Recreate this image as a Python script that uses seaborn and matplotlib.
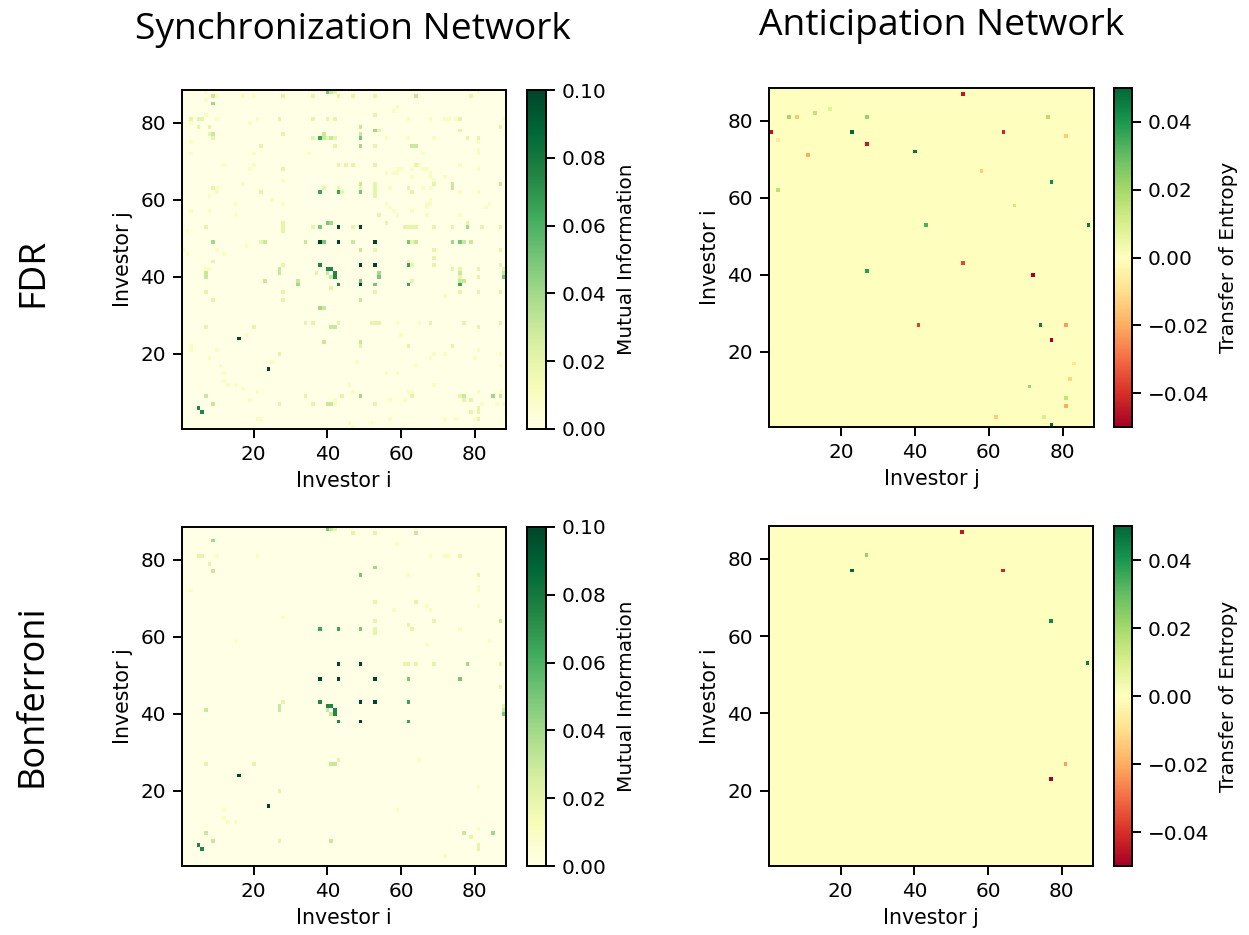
import numpy as np
import matplotlib
matplotlib.use("Agg")
import matplotlib.pyplot as plt
import seaborn as sns

N_INVESTORS = 88
AXIS_TICKS = [20, 40, 60, 80]
MI_CBAR_TICKS = [0.0, 0.02, 0.04, 0.06, 0.08, 0.10]
TE_CBAR_TICKS = [-0.04, -0.02, 0.0, 0.02, 0.04]
COLUMN_TITLES = ["Synchronization Network", "Anticipation Network"]
ROW_TITLES = ["FDR", "Bonferroni"]

# mutual information is symmetric, so only i < j pairs are listed, one list per value level
mi_level_values = [0.010, 0.020, 0.030, 0.040, 0.050, 0.065, 0.075, 0.100]
mi_pairs_010 = [(7, 88), (81, 88), (10, 87), (17, 87), (20, 87), (7, 86), (59, 84), (58, 83), (3, 81),
                (10, 81), (21, 81), (36, 81), (62, 81), (68, 81), (72, 81), (75, 81), (3, 80), (19, 80),
                (56, 76), (62, 76), (69, 76), (3, 75), (22, 74), (73, 81), (3, 72), (20, 72), (35, 72),
                (66, 72), (12, 69), (20, 69), (19, 68), (59, 68), (60, 68), (63, 68), (66, 68), (67, 68),
                (56, 67), (58, 67), (59, 67), (63, 66), (28, 65), (17, 64), (10, 63), (57, 63), (66, 63),
                (22, 62), (8, 61), (25, 60), (15, 59), (56, 59), (57, 58), (3, 57), (8, 57), (15, 56),
                (54, 56), (2, 52), (18, 48), (1, 47), (10, 47), (12, 46), (2, 46), (10, 62), (8, 42),
                (7, 40), (7, 42), (3, 22), (3, 21), (10, 21), (18, 25), (8, 19), (11, 17), (12, 15),
                (12, 13), (7, 82), (28, 59), (52, 28), (65, 69)]
mi_pairs_020 = [(42, 88), (28, 87), (36, 87), (43, 87), (47, 87), (53, 87), (79, 87), (53, 82), (5, 81),
                (6, 81), (27, 81), (40, 81), (42, 81), (76, 81), (8, 77), (8, 79), (28, 77), (9, 76),
                (36, 76), (39, 76), (40, 76), (42, 76), (54, 78), (76, 78), (42, 74), (53, 74), (63, 74),
                (43, 69), (45, 69), (47, 69), (53, 69), (64, 69), (28, 68), (9, 63), (39, 63), (43, 63),
                (49, 63), (53, 63), (62, 63), (53, 64), (44, 62), (53, 62), (53, 61), (28, 54), (54, 56),
                (54, 78), (7, 53), (28, 53), (36, 53), (47, 53), (61, 53), (63, 53), (64, 53), (69, 53),
                (74, 53), (78, 53), (82, 53), (87, 53), (22, 49), (63, 49), (64, 49), (77, 49), (79, 49),
                (69, 47), (87, 47), (9, 44), (28, 43), (63, 43), (69, 43), (87, 43), (37, 41), (74, 42),
                (76, 42), (81, 42), (76, 40), (81, 40), (7, 36), (28, 36), (53, 36), (76, 36), (81, 36),
                (87, 36), (9, 34), (28, 34), (28, 52), (7, 27), (20, 27), (81, 27), (22, 49), (22, 62),
                (22, 74), (34, 9), (44, 9), (63, 9), (76, 9), (77, 9), (87, 9), (8, 77), (5, 79), (5, 81),
                (6, 81), (3, 81)]
mi_pairs_030 = [(41, 88), (9, 87), (64, 87), (9, 77), (49, 77), (49, 79), (53, 78), (49, 64), (64, 74),
                (64, 87), (63, 74), (23, 49), (34, 49), (47, 49), (27, 41), (27, 42), (7, 41), (7, 9),
                (40, 41), (23, 39), (39, 76), (39, 77), (41, 76), (7, 40), (41, 42), (32, 39)]
mi_pairs_040 = [(9, 85), (9, 49), (32, 38), (85, 9), (53, 78), (49, 74), (41, 54)]
mi_pairs_050 = [(40, 88), (49, 76), (38, 53), (40, 54), (39, 49), (49, 62)]
mi_pairs_065 = [(38, 62), (43, 62), (38, 76)]
mi_pairs_075 = [(38, 43), (40, 42), (41, 42), (5, 6)]
mi_pairs_100 = [(38, 49), (43, 49), (43, 53), (49, 53), (16, 24)]
mi_no_data = [(41, 41)]

# pairs that also pass the Bonferroni threshold
mi_bonferroni_pairs = [(40, 88), (41, 88), (42, 88), (47, 87), (53, 87), (64, 87), (9, 85), (59, 84), (5, 81),
                       (6, 81), (10, 81), (21, 81), (68, 81), (72, 81), (73, 81), (76, 81), (8, 79), (53, 78),
                       (9, 77), (49, 76), (62, 76), (3, 72), (53, 69), (64, 69), (67, 68), (58, 67), (28, 65),
                       (53, 64), (69, 64), (62, 63), (38, 62), (49, 62), (53, 62), (53, 61), (15, 59), (43, 53),
                       (49, 53), (61, 53), (62, 53), (64, 53), (69, 53), (78, 53), (87, 53), (38, 49), (43, 49),
                       (62, 49), (76, 49), (28, 43), (38, 43), (43, 62), (27, 42), (40, 42), (41, 42), (7, 41),
                       (27, 41), (40, 41), (7, 27), (20, 27), (16, 24), (81, 21), (12, 15), (12, 13),
                       (81, 10), (7, 9), (77, 9), (85, 9), (79, 8), (27, 7), (41, 7), (5, 6), (81, 5), (72, 3)]

# transfer of entropy, (investor j, investor i)
te_cols = [53, 17, 13, 6, 8, 27, 76, 1, 23, 64, 81, 3, 27, 40, 11, 58, 77, 3, 67, 43, 87, 53, 27, 72, 41, 74,
           81, 77, 83, 82, 71, 81, 81, 62, 75, 77]
te_rows = [87, 83, 82, 81, 81, 81, 81, 77, 77, 77, 76, 75, 74, 72, 71, 67, 64, 62, 58, 53, 53, 43, 41, 40, 27, 27,
           27, 23, 17, 13, 11, 8, 6, 3, 3, 1]
te_vals = [-0.045, 0.008, 0.015, 0.020, -0.015, 0.022, 0.017, -0.046, 0.050, -0.042, -0.014, -0.007, -0.045,
           0.047, -0.020, -0.014, 0.043, 0.016, 0.012, 0.033, 0.046, -0.036, 0.038, -0.050, -0.037, 0.045,
           -0.022, -0.050, -0.008, -0.012, 0.021, 0.015, -0.020, -0.014, 0.010, 0.050]
te_bonferroni_cells = [(53, 87), (27, 81), (23, 77), (64, 77), (77, 64), (87, 53), (81, 27), (77, 23)]

# pixel boxes in the 1249x935 frame: left, top, right, bottom
HEATMAP_BOXES = [[(182, 90, 506, 429), (769, 88, 1094, 427)],
                 [(182, 527, 506, 866), (769, 526, 1093, 866)]]
CBAR_BOXES = [[(527, 90, 546, 429), (1114, 88, 1132, 427)],
              [(527, 527, 546, 866), (1114, 526, 1132, 866)]]
W, H = 1249, 935
FS = 14.4


def fig_rect(box):
    left, top, right, bottom = box
    return [left / W, 1 - bottom / H, (right - left) / W, (bottom - top) / H]


def mi_matrix():
    mat = np.zeros((N_INVESTORS, N_INVESTORS))
    levels = [mi_pairs_010, mi_pairs_020, mi_pairs_030, mi_pairs_040,
              mi_pairs_050, mi_pairs_065, mi_pairs_075, mi_pairs_100]
    for value, pairs in zip(mi_level_values, levels):
        for a, b in pairs:
            mat[a - 1, b - 1] = value
            mat[b - 1, a - 1] = value
    for a, b in mi_no_data:
        mat[a - 1, b - 1] = np.nan
    return mat


def bonferroni_mi(full):
    mat = np.zeros_like(full)
    for a, b in mi_bonferroni_pairs:
        mat[a - 1, b - 1] = full[a - 1, b - 1]
        mat[b - 1, a - 1] = full[b - 1, a - 1]
    for a, b in mi_no_data:
        mat[a - 1, b - 1] = np.nan
    return mat


def te_matrix():
    mat = np.zeros((N_INVESTORS, N_INVESTORS))
    for c, r, v in zip(te_cols, te_rows, te_vals):
        mat[r - 1, c - 1] = v
    return mat


def bonferroni_te(full):
    mat = np.zeros_like(full)
    for c, r in te_bonferroni_cells:
        mat[r - 1, c - 1] = full[r - 1, c - 1]
    return mat


def draw_panel(fig, mat, row, col, cmap, vmin, vmax, cbar_ticks, cbar_label, xlabel, ylabel):
    ax = fig.add_axes(fig_rect(HEATMAP_BOXES[row][col]))
    cax = fig.add_axes(fig_rect(CBAR_BOXES[row][col]))
    sns.heatmap(mat, ax=ax, cbar_ax=cax, cmap=cmap, vmin=vmin, vmax=vmax, square=False,
                xticklabels=False, yticklabels=False, cbar_kws={"ticks": cbar_ticks})
    ax.set_ylim(0, N_INVESTORS)
    ax.set_xlim(0, N_INVESTORS)
    # cell k is centred on k - 0.5 in heatmap coordinates
    ax.set_xticks([t - 0.5 for t in AXIS_TICKS])
    ax.set_yticks([t - 0.5 for t in AXIS_TICKS])
    ax.set_xticklabels(AXIS_TICKS, rotation=0, fontsize=FS)
    ax.set_yticklabels(AXIS_TICKS, rotation=0, fontsize=FS)
    ax.tick_params(direction="out", length=6.5, width=1.4, pad=5)
    ax.set_xlabel(xlabel, fontsize=FS + 0.4, labelpad=5)
    ax.set_ylabel(ylabel, fontsize=FS + 0.4, labelpad=5)
    for side in ax.spines.values():
        side.set_visible(True)
        side.set_linewidth(1.4)
        side.set_color("black")

    cbar = ax.collections[0].colorbar
    cbar.set_label(cbar_label, fontsize=FS, labelpad=7)
    cbar.ax.tick_params(labelsize=FS, length=6.5, width=1.4, pad=5)
    cbar.ax.set_yticks(cbar_ticks)
    cbar.ax.set_yticklabels([f"{t:.2f}".replace("-", "\u2212") for t in cbar_ticks])
    cbar.outline.set_visible(True)
    cbar.outline.set_linewidth(1.4)
    cbar.outline.set_edgecolor("black")
    return ax


mi_full = mi_matrix()
te_full = te_matrix()

fig = plt.figure(figsize=(W / 100, H / 100), dpi=100)

draw_panel(fig, mi_full, 0, 0, "YlGn", 0, 0.1, MI_CBAR_TICKS, "Mutual Information", "Investor i", "Investor j")
draw_panel(fig, te_full, 0, 1, "RdYlGn", -0.05, 0.05, TE_CBAR_TICKS, "Transfer of Entropy", "Investor j", "Investor i")
draw_panel(fig, bonferroni_mi(mi_full), 1, 0, "YlGn", 0, 0.1, MI_CBAR_TICKS, "Mutual Information", "Investor i", "Investor j")
draw_panel(fig, bonferroni_te(te_full), 1, 1, "RdYlGn", -0.05, 0.05, TE_CBAR_TICKS, "Transfer of Entropy", "Investor j", "Investor i")

fig.text(353 / W, 1 - 30 / H, COLUMN_TITLES[0], ha="center", va="center", fontsize=26.8, family="Open Sans")
fig.text(942 / W, 1 - 26 / H, COLUMN_TITLES[1], ha="center", va="center", fontsize=26.8, family="Open Sans")
fig.text(33 / W, 1 - 272 / H, ROW_TITLES[0], ha="center", va="center", rotation=90, fontsize=26.8, family="Open Sans")
fig.text(33 / W, 1 - 696 / H, ROW_TITLES[1], ha="center", va="center", rotation=90, fontsize=26, family="Open Sans")

fig.savefig("out.png", dpi=100)
